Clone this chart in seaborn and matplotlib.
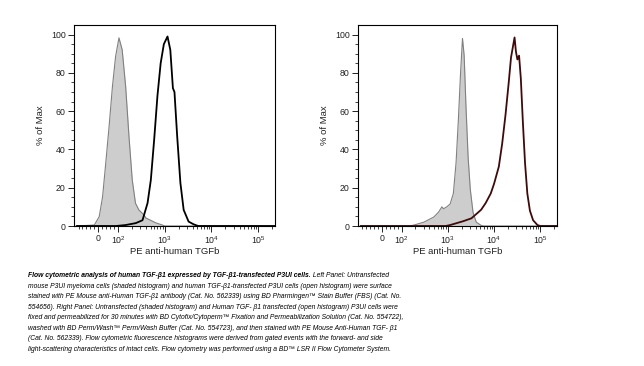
import matplotlib
matplotlib.use("Agg")
import matplotlib.pyplot as plt
import seaborn as sns
import pandas as pd
from matplotlib.ticker import FixedLocator, FixedFormatter

# left panel: untransfected (shaded) vs TGF-b1 transfected (open)
left_ctrl_x = [-110, -20, 5, 22, 38, 55, 72, 88, 105, 123, 146, 172, 202, 237,
               280, 360, 395, 640, 890, 1000, 230000]
left_ctrl_y = [0, 0.5, 4.9, 15.3, 32.8, 52, 72.9, 88.6, 98.3, 92.1, 72.9, 46.8,
               24.1, 11.9, 8.4, 5.8, 4.2, 1.7, 0.5, 0, 0]
left_open_x = [-110, 90, 146, 240, 335, 430, 505, 595, 700, 820, 960, 1150,
               1320, 1500, 1620, 1850, 2170, 2550, 3250, 4150, 5200, 230000]
left_open_y = [0, 0, 0.5, 1.5, 3, 12, 24, 45, 68, 85, 95, 99,
               92, 72, 70, 47, 22.5, 8.4, 2.3, 0.9, 0, 0]

# right panel: fixed/permeabilized cells
right_ctrl_x = [-110, 150, 186, 304, 500, 635, 745, 810, 950, 1125, 1320, 1510,
                1690, 1890, 2080, 2260, 2460, 2750, 3070, 3520, 4130, 5270,
                6000, 230000]
right_ctrl_y = [0, 0, 0.5, 2, 4.7, 7.3, 10, 9, 10, 11.5, 17, 33,
                55, 80, 98, 89, 64, 36, 19, 7, 2, 0.3, 0, 0]
right_open_x = [-110, 900, 1125, 2150, 3240, 4490, 5270, 6600, 8500, 10000,
                12700, 15000, 17700, 20800, 23300, 24500, 27800, 29800, 32000,
                34800, 38000, 41900, 46800, 52500, 59700, 70000, 86900, 100000,
                230000]
right_open_y = [0, 0, 0.5, 2.5, 4, 7, 8.5, 12, 17, 22,
                31, 43, 58, 75, 88, 91, 98.5, 91, 87,
                89, 77, 55, 33, 17, 8, 3, 0.5, 0, 0]

major_ticks = [0, 1e2, 1e3, 1e4, 1e5]
major_labels = ["0", r"$10^2$", r"$10^3$", r"$10^4$", r"$10^5$"]
x_label = "PE anti-human TGFb"
y_label = "% of Max"

sns.set_style("ticks")
plt.rcParams["font.family"] = ["Liberation Sans", "DejaVu Sans"]
plt.rcParams["mathtext.fontset"] = "custom"
plt.rcParams["mathtext.rm"] = "Liberation Sans"
plt.rcParams["mathtext.default"] = "regular"

fig = plt.figure(figsize=(6.44, 3.66), dpi=100)
ax1 = fig.add_axes([74 / 644, 1 - 226 / 366, 201 / 644, 201 / 366])
ax2 = fig.add_axes([358 / 644, 1 - 226 / 366, 199 / 644, 201 / 366])

minor = [-100, -80, -60, -40, -20, 20, 40, 60, 80]
for d in [100, 1000, 10000, 100000]:
    minor += [k * d for k in range(2, 10)]


def draw_panel(ax, cx, cy, ox, oy, open_color):
    ctrl = pd.DataFrame({"x": cx, "y": cy})
    opn = pd.DataFrame({"x": ox, "y": oy})
    ax.set_xscale("symlog", linthresh=100, linscale=0.38)
    ax.fill_between(ctrl["x"], ctrl["y"], color="#cdcdcd", lw=0)
    sns.lineplot(data=ctrl, x="x", y="y", ax=ax, sort=False, estimator=None,
                 color="#808080", lw=0.8)
    sns.lineplot(data=opn, x="x", y="y", ax=ax, sort=False, estimator=None,
                 color=open_color, lw=1.3)
    ax.set_xlim(-125, 230000)
    ax.set_ylim(0, 105)
    ax.xaxis.set_major_locator(FixedLocator(major_ticks))
    ax.xaxis.set_major_formatter(FixedFormatter(major_labels))
    ax.xaxis.set_minor_locator(FixedLocator(minor))
    ax.set_yticks([0, 20, 40, 60, 80, 100])
    ax.yaxis.set_minor_locator(FixedLocator(list(range(5, 105, 5))))
    ax.tick_params(which="major", length=4, width=0.7, labelsize=6.3,
                   colors="#222222", pad=2)
    ax.tick_params(which="minor", length=2, width=0.6, color="#222222")
    ax.set_xlabel(x_label, fontsize=6.8, labelpad=1, color="#222222")
    ax.set_ylabel(y_label, fontsize=6.8, labelpad=4, color="#222222")
    for s in ax.spines.values():
        s.set_visible(True)
        s.set_linewidth(0.8)
        s.set_color("black")


draw_panel(ax1, left_ctrl_x, left_ctrl_y, left_open_x, left_open_y, "black")
draw_panel(ax2, right_ctrl_x, right_ctrl_y, right_open_x, right_open_y, "#3e0a0a")

caption_bold = "Flow cytometric analysis of human TGF-\u03b21 expressed by TGF-\u03b21-transfected P3UI cells."
caption_lines = [
    " Left Panel: Untransfected",
    "mouse P3UI myeloma cells (shaded histogram) and human TGF-\u03b21-transfected P3UI cells (open histogram) were surface",
    "stained with PE Mouse anti-Human TGF-\u03b21 antibody (Cat. No. 562339) using BD Pharmingen\u2122 Stain Buffer (FBS) (Cat. No.",
    "554656). Right Panel: Untransfected (shaded histogram) and Human TGF- \u03b21 transfected (open histogram) P3UI cells were",
    "fixed and permeabilized for 30 minutes with BD Cytofix/Cytoperm\u2122 Fixation and Permeabilization Solution (Cat. No. 554722),",
    "washed with BD Perm/Wash\u2122 Perm/Wash Buffer (Cat. No. 554723), and then stained with PE Mouse Anti-Human TGF- \u03b21",
    "(Cat. No. 562339). Flow cytometric fluorescence histograms were derived from gated events with the forward- and side",
    "light-scattering characteristics of intact cells. Flow cytometry was performed using a BD\u2122 LSR II Flow Cytometer System.",
]

cap_size = 4.9
x0 = 28 / 644
y_first = 275.7
step = 10.5
renderer = fig.canvas.get_renderer()
t = fig.text(x0, 1 - y_first / 366, caption_bold, fontsize=cap_size, style="italic",
             weight="bold", va="center", ha="left", color="black")
bb = t.get_window_extent(renderer)
fig.text(bb.x1 / fig.bbox.width, 1 - y_first / 366, caption_lines[0], fontsize=cap_size,
         style="italic", va="center", ha="left", color="black")
for i, line in enumerate(caption_lines[1:], start=1):
    fig.text(x0, 1 - (y_first + i * step) / 366, line, fontsize=cap_size,
             style="italic", va="center", ha="left", color="black")

fig.savefig("out.png", dpi=100)
